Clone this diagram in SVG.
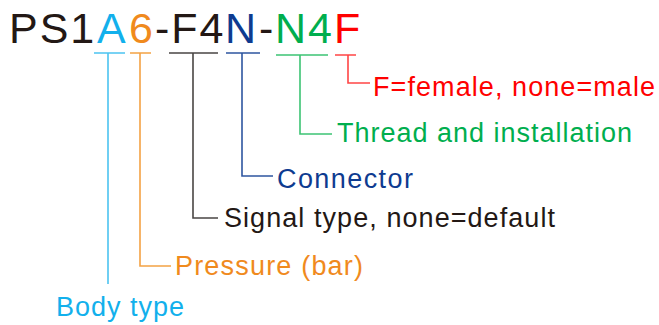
<svg xmlns="http://www.w3.org/2000/svg" width="659" height="325" viewBox="0 0 659 325">
<style>
text{font-family:"Liberation Sans",Arial,sans-serif}
.title{font-size:43px;letter-spacing:2px}
.lbl{font-size:27px}
.c{fill:none;stroke-width:1.6}
.lb{fill:#12B0EC}.lbs{stroke:#4CC4F1}
.or{fill:#F08A1D}.ors{stroke:#F4A244}
.dk{fill:#231815}.dks{stroke:#4A4644}
.nv{fill:#0E3B90}.nvs{stroke:#2E56A0}
.gr{fill:#00AE4E}.grs{stroke:#3CC474}
.rd{fill:#FF0000}.rds{stroke:#FF4545}
</style>
<rect width="659" height="325" fill="#fff"/>
<g id="code">
<text class="title" y="43"><tspan class="dk" x="9">PS1</tspan><tspan class="lb" x="97">A</tspan><tspan class="or" x="129">6</tspan><tspan class="dk" x="155">-F4</tspan><tspan class="nv" x="225">N</tspan><tspan class="dk" x="259">-</tspan><tspan class="gr" x="275">N4</tspan><tspan class="rd" x="334">F</tspan></text>
</g>
<g id="connectors">
<path class="c lbs" d="M94 53H125M108 53V284"/>
<path class="c ors" d="M130 53H151M140 53V266H171"/>
<path class="c dks" d="M169 53H218M193 53V218H218"/>
<path class="c nvs" d="M226 53H260M242 53V176H273"/>
<path class="c grs" d="M276 55H328M300 55V134H332"/>
<path class="c rds" d="M335 55H356M348 55V83H370"/>
</g>
<g id="label-female"><text class="lbl rd" x="373" y="96" textLength="282" lengthAdjust="spacing">F=female, none=male</text></g>
<g id="label-thread"><text class="lbl gr" x="337" y="142" textLength="295" lengthAdjust="spacing">Thread and installation</text></g>
<g id="label-connector"><text class="lbl nv" x="277" y="188" textLength="136" lengthAdjust="spacing">Connector</text></g>
<g id="label-signal"><text class="lbl dk" x="224" y="227" textLength="331" lengthAdjust="spacing">Signal type, none=default</text></g>
<g id="label-pressure"><text class="lbl or" x="175" y="275" textLength="188" lengthAdjust="spacing">Pressure (bar)</text></g>
<g id="label-body"><text class="lbl lb" x="56" y="316" textLength="128" lengthAdjust="spacing">Body type</text></g>
</svg>
